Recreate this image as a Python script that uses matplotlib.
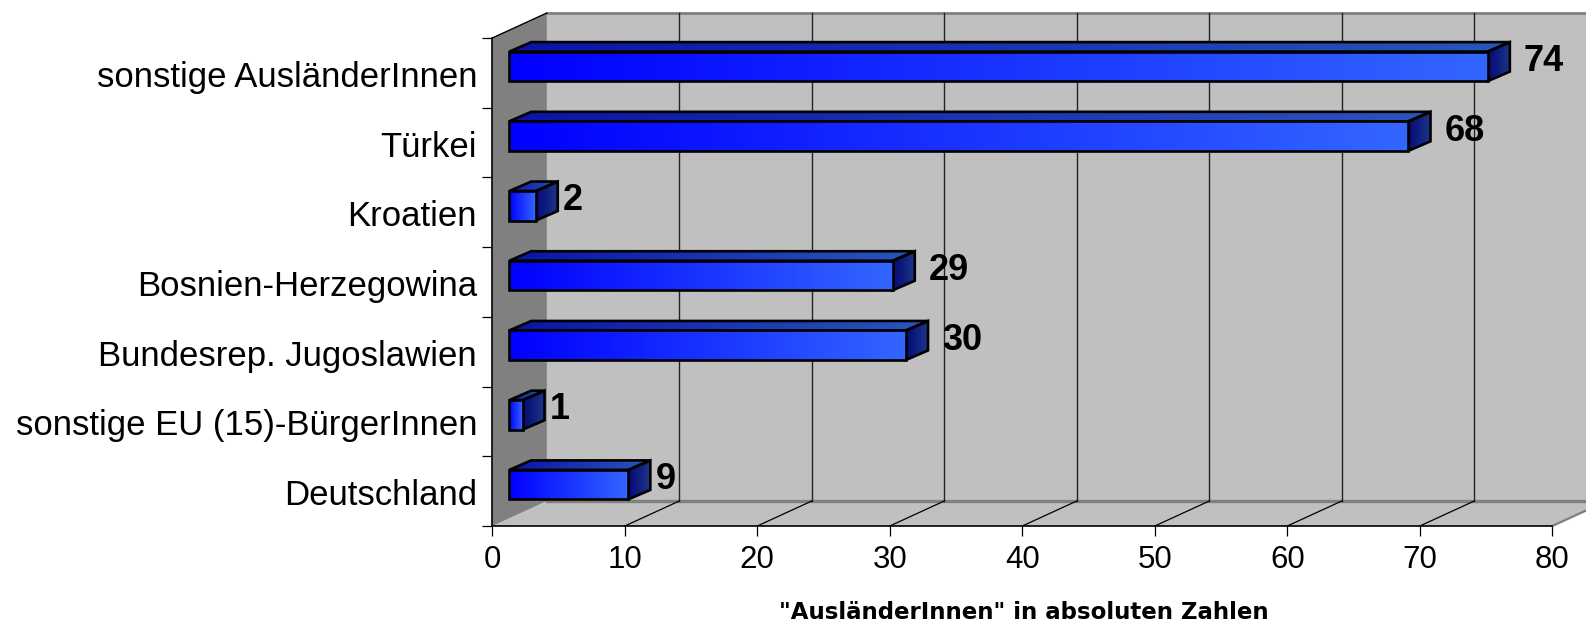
import numpy as np
import matplotlib
matplotlib.use("Agg")
import matplotlib.pyplot as plt
from matplotlib.colors import LinearSegmentedColormap
from matplotlib.patches import Polygon

categories = ["Deutschland", "sonstige EU (15)-BürgerInnen", "Bundesrep. Jugoslawien",
              "Bosnien-Herzegowina", "Kroatien", "Türkei", "sonstige AusländerInnen"]
values = [9, 1, 30, 29, 2, 68, 74]
x_ticks = [0, 10, 20, 30, 40, 50, 60, 70, 80]
x_title = '"AusländerInnen" in absoluten Zahlen'

plt.rcParams["font.family"] = ["Liberation Sans", "DejaVu Sans"]

W, H = 1586, 625
LEFT, RIGHT, BOTTOM, TOP = 492.3, 1552.3, 526, 38  # plot box in pixels

fig = plt.figure(figsize=(W / 100, H / 100), dpi=100)
ax = fig.add_axes([LEFT / W, 1 - BOTTOM / H, (RIGHT - LEFT) / W, (BOTTOM - TOP) / H])
ax.set_xlim(0, 80)
ax.set_ylim(0, 7)

# pixel sizes turned into data units, for the fake 3d look
px_x = 80 / (RIGHT - LEFT)
px_y = 7 / (BOTTOM - TOP)
wall_dx, wall_dy = 54.5 * px_x, 25 * px_y
bar_x0, bar_lift = 17 * px_x, 6.5 * px_y
bar_dx, bar_dy = 22 * px_x, 9.5 * px_y
bar_h = 29.5 * px_y


def poly(points, color, z=1):
    ax.add_patch(Polygon(points, closed=True, facecolor=color, edgecolor="none",
                         clip_on=False, zorder=z))


def gradient(points, start, end, z):
    # horizontal colour ramp clipped to the shape, with a black outline
    xs = [p[0] for p in points]
    ys = [p[1] for p in points]
    cmap = LinearSegmentedColormap.from_list("g", [start, end])
    im = ax.imshow(np.linspace(0, 1, 256).reshape(1, -1), cmap=cmap, aspect="auto",
                   extent=(min(xs), max(xs), min(ys), max(ys)), zorder=z,
                   interpolation="bilinear")
    shape = Polygon(points, closed=True, facecolor="none", edgecolor="black",
                    linewidth=1.9, joinstyle="miter", clip_on=False, zorder=z + 0.1)
    ax.add_patch(shape)
    im.set_clip_path(Polygon(points, closed=True, transform=ax.transData))


# walls and floor
poly([(0, 0), (wall_dx, wall_dy), (80 + wall_dx, wall_dy), (80 + wall_dx, 7 + wall_dy),
      (wall_dx, 7 + wall_dy)], "#c0c0c0")
poly([(0, 0), (80, 0), (80 + wall_dx, wall_dy), (wall_dx, wall_dy)], "#c0c0c0")
poly([(0, 0), (wall_dx, wall_dy), (wall_dx, 7 + wall_dy), (0, 7)], "#808080")

ax.plot([wall_dx, 80 + wall_dx], [wall_dy, wall_dy], color="#808080", lw=2.4, clip_on=False, zorder=2)
ax.plot([wall_dx, 80 + wall_dx], [7 + wall_dy, 7 + wall_dy], color="#808080", lw=2, clip_on=False, zorder=2)
ax.plot([80, 80 + wall_dx], [0, wall_dy], color="#808080", lw=1.6, clip_on=False, zorder=2)
ax.plot([0, wall_dx], [7, 7 + wall_dy], color="black", lw=1, clip_on=False, zorder=3)
for t in x_ticks[1:-1]:
    ax.plot([t + wall_dx, t + wall_dx], [wall_dy, 7 + wall_dy], color="#222222", lw=1,
            clip_on=False, zorder=2.5)
    ax.plot([t, t + wall_dx], [0, wall_dy], color="black", lw=0.9, clip_on=False, zorder=2.5)

# bars
for i, v in enumerate(values):
    x0 = bar_x0
    x1 = x0 + v * 0.998
    y0 = i + 0.5 + bar_lift - bar_h / 2
    y1 = y0 + bar_h
    gradient([(x0, y1), (x0 + bar_dx, y1 + bar_dy), (x1 + bar_dx, y1 + bar_dy), (x1, y1)],
             "#0a14a8", "#2a55bc", 5)
    gradient([(x1, y0), (x1 + bar_dx, y0 + bar_dy), (x1 + bar_dx, y1 + bar_dy), (x1, y1)],
             "#050a78", "#1c3586", 5)
    gradient([(x0, y0), (x1, y0), (x1, y1), (x0, y1)], "#0000ff", "#3366ff", 6)
    offset = 56 if v >= 10 else 37.5
    ax.annotate(str(v), (x1, i + 0.5), xytext=(offset * 0.72, 11.5 * 0.72),
                textcoords="offset points", ha="center", va="center",
                fontsize=26, fontweight="bold", color="black", zorder=8,
                annotation_clip=False)

ax.set_xlim(0, 80)
ax.set_ylim(0, 7)

for s in ["top", "right"]:
    ax.spines[s].set_visible(False)
for s in ["left", "bottom"]:
    ax.spines[s].set_linewidth(1.2)
    ax.spines[s].set_zorder(4)

ax.set_xticks(x_ticks)
ax.set_xticklabels([str(t) for t in x_ticks])
ax.set_yticks(np.arange(8))
ax.set_yticklabels([])
# labels sit a little under the middle of their band
ax.set_yticks(np.arange(7) + 0.5 - 1 * px_y, labels=categories, minor=True)
ax.tick_params(axis="y", which="major", length=7.5, width=0.9)
ax.tick_params(axis="y", which="minor", length=0, pad=11, labelsize=25)
ax.tick_params(axis="x", length=7, width=0.9, pad=6.5, labelsize=22.5)
ax.patch.set_visible(False)

# the original title is small and widely spaced, DejaVu bold gets closest to that
fig.text(1024 / W, 1 - 619 / H, x_title, ha="center", va="baseline", fontsize=16.5,
         fontweight="bold", color="black", family="DejaVu Sans")

fig.savefig("out.png", dpi=100)
